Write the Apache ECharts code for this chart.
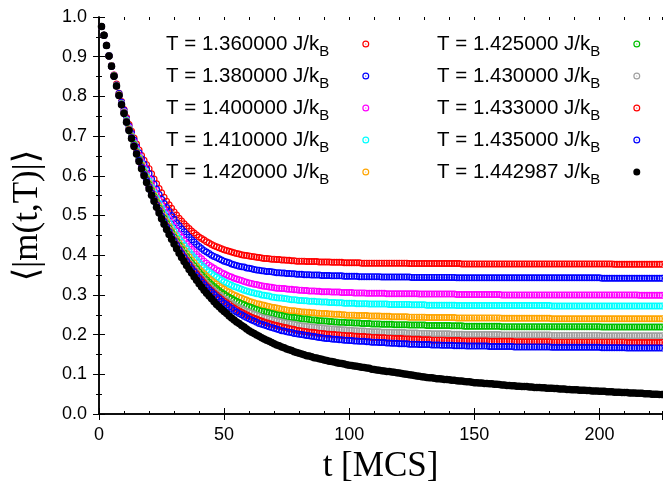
<!DOCTYPE html>
<html>
<head>
<meta charset="utf-8">
<script src="https://cdn.jsdelivr.net/npm/echarts@6/dist/echarts.min.js"></script>
<style>html,body{margin:0;padding:0;background:#fff}#c{width:663px;height:483px}</style>
</head>
<body>
<div id="c"></div>
<script>
// ---- data (t = 1 .. 225 MCS, one value per MCS) ----
const tStart = 1;
const temps = ['1.360000','1.380000','1.400000','1.410000','1.420000','1.425000','1.430000','1.433000','1.435000','1.442987'];

const m1360 = [
.976,.954,.929,.903,.878,.854,.831,.808,.787,.767,
.747,.729,.712,.695,.680,.665,.651,.639,.628,.618,
.605,.592,.580,.568,.557,.546,.536,.527,.518,.509,
.501,.493,.486,.479,.473,.467,.461,.456,.451,.446,
.442,.438,.434,.431,.427,.424,.421,.419,.416,.414,
.412,.410,.408,.406,.404,.403,.401,.400,.399,.398,
.397,.396,.395,.394,.393,.392,.392,.391,.390,.390,
.389,.389,.388,.388,.387,.387,.386,.386,.385,.385,
.385,.385,.384,.384,.384,.384,.384,.383,.383,.383,
.383,.383,.382,.382,.382,.382,.382,.381,.381,.381,
.381,.381,.381,.381,.380,.380,.380,.380,.380,.380,
.380,.380,.380,.380,.380,.380,.380,.380,.380,.380,
.380,.380,.380,.379,.379,.379,.379,.379,.379,.379,
.379,.379,.379,.379,.379,.379,.379,.379,.379,.379,
.379,.379,.379,.379,.378,.378,.378,.378,.378,.378,
.378,.378,.378,.378,.378,.378,.378,.378,.378,.378,
.378,.378,.378,.378,.378,.378,.378,.378,.378,.378,
.378,.378,.378,.378,.378,.378,.378,.378,.378,.378,
.378,.378,.378,.378,.378,.378,.378,.378,.378,.378,
.378,.378,.378,.378,.378,.378,.378,.378,.378,.378,
.378,.378,.378,.378,.378,.377,.377,.377,.377,.377,
.377,.377,.377,.377,.377,.377,.377,.377,.377,.377,
.377,.377,.377,.377,.377];

const m1380 = [
.976,.954,.929,.903,.878,.853,.829,.807,.785,.765,
.744,.725,.707,.690,.673,.658,.643,.630,.617,.606,
.592,.579,.566,.553,.541,.530,.520,.510,.500,.491,
.482,.474,.466,.459,.452,.445,.439,.433,.427,.422,
.417,.412,.408,.404,.400,.397,.394,.391,.388,.385,
.383,.381,.378,.376,.374,.372,.371,.370,.368,.367,
.366,.364,.363,.362,.361,.360,.359,.359,.358,.357,
.356,.356,.355,.355,.354,.354,.353,.353,.352,.352,
.352,.351,.351,.351,.350,.350,.350,.350,.349,.349,
.349,.349,.348,.348,.348,.348,.348,.347,.347,.347,
.347,.347,.347,.346,.346,.346,.346,.346,.346,.346,
.346,.346,.345,.345,.345,.345,.345,.345,.345,.345,
.345,.345,.345,.345,.344,.344,.344,.344,.344,.344,
.344,.344,.344,.344,.344,.344,.344,.344,.344,.344,
.344,.344,.343,.343,.343,.343,.343,.343,.343,.343,
.343,.343,.343,.343,.343,.343,.343,.343,.343,.343,
.343,.343,.343,.343,.343,.343,.343,.343,.343,.343,
.343,.343,.343,.343,.343,.343,.343,.343,.343,.343,
.343,.343,.343,.343,.343,.343,.343,.343,.343,.343,
.343,.343,.343,.343,.343,.343,.343,.343,.343,.343,
.342,.342,.342,.342,.342,.342,.342,.342,.342,.342,
.342,.342,.342,.342,.342,.342,.342,.342,.342,.342,
.342,.342,.342,.342,.342];

const m1400 = [
.976,.954,.928,.903,.877,.853,.828,.805,.783,.762,
.741,.722,.703,.685,.668,.651,.635,.620,.606,.593,
.579,.565,.552,.539,.526,.514,.503,.492,.482,.472,
.462,.453,.445,.437,.429,.422,.415,.409,.402,.396,
.391,.385,.380,.375,.371,.367,.363,.360,.356,.353,
.350,.347,.345,.342,.340,.338,.336,.334,.332,.330,
.329,.327,.326,.324,.323,.322,.321,.320,.319,.318,
.317,.317,.316,.316,.315,.314,.314,.313,.313,.312,
.312,.311,.311,.310,.310,.310,.309,.309,.308,.308,
.308,.308,.307,.307,.307,.307,.306,.306,.306,.306,
.306,.305,.305,.305,.305,.305,.304,.304,.304,.304,
.304,.304,.304,.304,.303,.303,.303,.303,.303,.303,
.303,.303,.303,.303,.303,.303,.303,.302,.302,.302,
.302,.302,.302,.302,.302,.302,.302,.302,.302,.302,
.302,.302,.301,.301,.301,.301,.301,.301,.301,.301,
.301,.301,.301,.301,.301,.301,.301,.301,.301,.301,
.300,.300,.300,.300,.300,.300,.300,.300,.300,.300,
.300,.300,.300,.300,.300,.300,.300,.300,.300,.300,
.300,.300,.300,.300,.300,.300,.300,.300,.300,.300,
.300,.300,.300,.300,.300,.300,.300,.300,.300,.300,
.300,.300,.300,.300,.300,.300,.300,.300,.300,.300,
.300,.300,.300,.300,.300,.299,.299,.299,.299,.299,
.299,.299,.299,.299,.299];

const m1410 = [
.976,.954,.928,.903,.877,.852,.828,.804,.782,.761,
.740,.720,.701,.682,.665,.647,.631,.615,.600,.587,
.572,.558,.544,.531,.518,.505,.493,.482,.471,.461,
.451,.442,.433,.425,.416,.408,.401,.394,.387,.381,
.375,.369,.363,.358,.353,.349,.345,.341,.337,.333,
.330,.327,.324,.321,.319,.317,.314,.312,.310,.308,
.306,.305,.303,.302,.300,.299,.298,.297,.295,.294,
.293,.292,.292,.291,.290,.289,.288,.288,.287,.286,
.286,.285,.285,.284,.284,.284,.283,.283,.282,.282,
.282,.281,.281,.281,.280,.280,.280,.279,.279,.279,
.279,.279,.278,.278,.278,.278,.278,.277,.277,.277,
.277,.277,.277,.277,.277,.276,.276,.276,.276,.276,
.276,.276,.276,.276,.275,.275,.275,.275,.275,.275,
.274,.274,.274,.274,.274,.274,.274,.274,.274,.274,
.274,.274,.273,.273,.273,.273,.273,.273,.273,.273,
.273,.273,.273,.273,.273,.273,.273,.273,.273,.273,
.273,.273,.273,.273,.273,.273,.273,.273,.273,.273,
.273,.273,.273,.273,.273,.273,.273,.273,.273,.273,
.272,.272,.272,.272,.272,.272,.272,.272,.272,.272,
.272,.272,.272,.272,.272,.272,.272,.272,.272,.272,
.272,.272,.272,.272,.272,.272,.272,.272,.272,.272,
.272,.272,.272,.272,.272,.272,.272,.272,.272,.272,
.272,.272,.272,.272,.272];

const m1420 = [
.976,.954,.928,.902,.877,.852,.827,.804,.781,.760,
.738,.718,.699,.680,.661,.644,.627,.610,.595,.581,
.566,.551,.537,.523,.510,.497,.485,.473,.462,.452,
.441,.431,.422,.413,.404,.396,.388,.381,.373,.366,
.359,.353,.347,.341,.336,.331,.327,.322,.318,.314,
.310,.307,.303,.300,.297,.294,.292,.289,.287,.284,
.282,.280,.278,.277,.275,.274,.272,.271,.269,.268,
.267,.266,.264,.263,.262,.261,.260,.260,.259,.258,
.257,.257,.256,.256,.255,.255,.254,.254,.253,.253,
.253,.252,.252,.251,.251,.251,.250,.250,.249,.249,
.249,.249,.248,.248,.248,.248,.248,.247,.247,.247,
.247,.247,.246,.246,.246,.246,.245,.245,.245,.245,
.245,.245,.245,.244,.244,.244,.244,.244,.244,.244,
.243,.243,.243,.243,.243,.243,.243,.243,.243,.243,
.243,.243,.242,.242,.242,.242,.242,.242,.242,.242,
.242,.242,.242,.242,.242,.242,.242,.242,.242,.242,
.241,.241,.241,.241,.241,.241,.241,.241,.241,.241,
.241,.241,.241,.241,.241,.241,.241,.241,.241,.241,
.240,.240,.240,.240,.240,.240,.240,.240,.240,.240,
.240,.240,.240,.240,.240,.240,.240,.240,.240,.240,
.240,.240,.240,.240,.240,.240,.240,.240,.240,.240,
.240,.240,.240,.240,.240,.240,.240,.240,.240,.240,
.240,.240,.240,.240,.240];

const m1425 = [
.976,.954,.928,.902,.876,.852,.827,.803,.781,.759,
.738,.717,.698,.679,.660,.642,.624,.608,.592,.578,
.563,.548,.533,.519,.506,.493,.480,.468,.457,.446,
.435,.425,.415,.406,.397,.388,.380,.373,.365,.357,
.350,.344,.338,.332,.326,.321,.316,.311,.306,.302,
.298,.294,.291,.287,.284,.281,.278,.275,.272,.270,
.268,.265,.263,.261,.259,.258,.256,.255,.253,.252,
.250,.249,.248,.246,.245,.244,.243,.243,.242,.241,
.240,.239,.239,.238,.237,.237,.236,.235,.235,.234,
.234,.233,.233,.232,.232,.231,.231,.231,.230,.230,
.230,.229,.229,.229,.228,.228,.228,.228,.227,.227,
.227,.227,.226,.226,.226,.226,.226,.225,.225,.225,
.225,.225,.225,.224,.224,.224,.224,.224,.224,.224,
.223,.223,.223,.223,.223,.223,.223,.223,.223,.223,
.222,.222,.222,.222,.222,.221,.221,.221,.221,.221,
.221,.221,.221,.221,.221,.221,.221,.221,.221,.221,
.220,.220,.220,.220,.220,.220,.220,.220,.220,.220,
.220,.220,.220,.220,.220,.220,.220,.220,.220,.220,
.220,.220,.220,.220,.220,.220,.220,.220,.220,.220,
.220,.220,.220,.220,.220,.220,.220,.220,.220,.220,
.219,.219,.219,.219,.219,.219,.219,.219,.219,.219,
.219,.219,.219,.219,.219,.219,.219,.219,.219,.219,
.219,.219,.219,.219,.219];

const m1430 = [
.976,.954,.928,.902,.876,.851,.827,.803,.780,.758,
.737,.716,.697,.677,.659,.640,.623,.606,.590,.575,
.560,.545,.530,.516,.502,.489,.476,.464,.452,.441,
.430,.420,.410,.400,.391,.382,.374,.366,.358,.350,
.343,.336,.329,.323,.317,.311,.306,.301,.296,.291,
.287,.283,.279,.275,.271,.268,.265,.262,.259,.256,
.254,.251,.249,.246,.244,.242,.241,.239,.238,.236,
.235,.233,.232,.230,.229,.228,.227,.226,.224,.223,
.222,.221,.221,.220,.219,.219,.218,.217,.217,.216,
.215,.215,.214,.214,.213,.213,.212,.212,.211,.211,
.211,.210,.210,.209,.209,.209,.208,.208,.207,.207,
.207,.207,.206,.206,.206,.206,.206,.205,.205,.205,
.205,.205,.204,.204,.204,.204,.204,.203,.203,.203,
.203,.203,.202,.202,.202,.202,.202,.202,.202,.202,
.201,.201,.201,.201,.201,.200,.200,.200,.200,.200,
.200,.200,.200,.200,.200,.200,.200,.200,.200,.200,
.199,.199,.199,.199,.199,.199,.199,.199,.199,.199,
.199,.199,.199,.199,.199,.199,.199,.199,.199,.199,
.198,.198,.198,.198,.198,.198,.198,.198,.198,.198,
.198,.198,.198,.198,.198,.198,.198,.198,.198,.198,
.197,.197,.197,.197,.197,.197,.197,.197,.197,.197,
.197,.197,.197,.197,.197,.197,.197,.197,.197,.197,
.197,.197,.197,.197,.197];

const m1433 = [
.976,.954,.928,.902,.876,.851,.826,.803,.780,.758,
.737,.716,.696,.676,.658,.639,.622,.604,.589,.573,
.558,.543,.528,.513,.499,.486,.473,.461,.449,.438,
.427,.416,.406,.397,.387,.378,.369,.361,.353,.345,
.338,.330,.323,.317,.311,.305,.300,.294,.289,.284,
.280,.276,.271,.267,.263,.260,.256,.253,.250,.247,
.244,.241,.239,.236,.234,.232,.230,.228,.226,.224,
.223,.221,.220,.218,.217,.215,.214,.213,.211,.210,
.209,.208,.207,.206,.206,.205,.204,.203,.203,.202,
.201,.201,.200,.200,.199,.199,.198,.198,.197,.197,
.197,.196,.196,.195,.195,.195,.194,.194,.193,.193,
.193,.192,.192,.192,.191,.191,.191,.190,.190,.190,
.190,.189,.189,.189,.188,.188,.188,.188,.187,.187,
.187,.187,.186,.186,.186,.186,.186,.186,.185,.185,
.185,.185,.185,.185,.184,.184,.184,.184,.184,.184,
.184,.184,.184,.184,.184,.183,.183,.183,.183,.183,
.183,.183,.183,.183,.183,.182,.182,.182,.182,.182,
.182,.182,.182,.182,.182,.182,.182,.182,.182,.182,
.181,.181,.181,.181,.181,.181,.181,.181,.181,.181,
.181,.181,.181,.181,.181,.181,.181,.181,.181,.181,
.181,.181,.181,.181,.181,.181,.181,.181,.181,.181,
.180,.180,.180,.180,.180,.180,.180,.180,.180,.180,
.180,.180,.180,.180,.180];

const m1435 = [
.976,.954,.928,.902,.876,.851,.826,.802,.780,.758,
.736,.715,.696,.676,.657,.639,.621,.603,.588,.572,
.556,.541,.526,.512,.498,.484,.471,.459,.447,.436,
.425,.414,.404,.394,.384,.375,.366,.358,.349,.341,
.333,.326,.319,.313,.307,.301,.295,.290,.284,.279,
.275,.270,.266,.261,.257,.253,.250,.246,.243,.240,
.237,.234,.231,.228,.226,.224,.222,.220,.218,.216,
.214,.212,.210,.209,.207,.206,.205,.203,.202,.201,
.200,.199,.198,.197,.196,.195,.194,.193,.192,.191,
.190,.190,.189,.188,.188,.187,.187,.186,.186,.185,
.185,.184,.184,.183,.183,.183,.182,.182,.181,.181,
.181,.180,.180,.180,.179,.179,.178,.178,.178,.177,
.177,.177,.177,.176,.176,.176,.176,.175,.175,.175,
.175,.175,.174,.174,.174,.174,.173,.173,.173,.173,
.173,.172,.172,.172,.172,.172,.171,.171,.171,.171,
.171,.171,.171,.171,.171,.170,.170,.170,.170,.170,
.170,.170,.170,.170,.170,.169,.169,.169,.169,.169,
.169,.169,.169,.169,.169,.169,.169,.169,.169,.169,
.168,.168,.168,.168,.168,.168,.168,.168,.168,.168,
.168,.168,.168,.168,.168,.168,.168,.168,.168,.168,
.167,.167,.167,.167,.167,.167,.167,.167,.167,.167,
.166,.166,.166,.166,.166,.166,.166,.166,.166,.166,
.166,.166,.166,.166,.166];

const m1442987 = [
.976,.954,.928,.902,.876,.851,.826,.802,.779,.757,
.735,.714,.694,.674,.655,.636,.618,.600,.583,.567,
.551,.536,.521,.506,.492,.478,.465,.452,.440,.428,
.416,.405,.394,.384,.374,.364,.355,.346,.337,.328,
.320,.312,.304,.297,.290,.283,.276,.270,.264,.258,
.253,.247,.242,.237,.232,.228,.223,.219,.214,.210,
.206,.203,.199,.196,.192,.189,.186,.183,.180,.177,
.174,.172,.169,.167,.164,.162,.160,.157,.155,.153,
.151,.149,.147,.146,.144,.142,.141,.139,.138,.136,
.135,.133,.132,.131,.129,.128,.127,.126,.124,.123,
.122,.121,.120,.119,.118,.117,.116,.115,.113,.112,
.111,.110,.109,.108,.107,.107,.106,.105,.104,.103,
.102,.101,.100,.099,.098,.097,.096,.095,.094,.093,
.092,.091,.091,.090,.089,.089,.088,.087,.087,.086,
.085,.085,.084,.083,.083,.082,.081,.081,.080,.079,
.079,.078,.078,.077,.077,.076,.076,.075,.075,.074,
.073,.073,.072,.072,.071,.071,.070,.070,.069,.069,
.069,.068,.068,.067,.067,.067,.066,.066,.065,.065,
.065,.064,.064,.063,.063,.063,.062,.062,.061,.061,
.061,.060,.060,.060,.059,.059,.058,.058,.058,.057,
.057,.057,.056,.056,.056,.055,.055,.055,.054,.054,
.054,.053,.053,.053,.052,.052,.052,.051,.051,.051,
.050,.050,.050,.049,.049];

const seriesValues = [m1360, m1380, m1400, m1410, m1420, m1425, m1430, m1433, m1435, m1442987];
const xTicks = [0, 50, 100, 150, 200];

// ---- styling ----
const colors = ['#ff0000','#0000ff','#ff00ff','#00ffff','#ffa500','#00c000','#a0a0a0','#ff0000','#0000ff','#000000'];
const ring = 'path://M0,10A10,10,0,1,1,20,10A10,10,0,1,1,0,10Z' +
             'M3.4,10A6.6,6.6,0,1,0,16.6,10A6.6,6.6,0,1,0,3.4,10Z' +
             'M8.3,10A1.7,1.7,0,1,1,11.7,10A1.7,1.7,0,1,1,8.3,10Z';
const names = temps.map(s => 'T = ' + s + ' J/k');

seriesValues.forEach((a, i) => { if (a.length !== 225) console.error('bad length', i, a.length); });

const series = seriesValues.map((vals, i) => ({
  name: names[i],
  type: 'scatter',
  xAxisIndex: 0, yAxisIndex: 0,
  symbol: i === 9 ? 'circle' : ring,
  symbolSize: i === 9 ? 7.5 : 7,
  itemStyle: { color: colors[i], opacity: 1 },
  emphasis: { disabled: true },
  silent: true,
  data: vals.map((v, k) => [tStart + k, v])
}));

const legendText = {
  color: '#000',
  rich: {
    a: { fontFamily: 'Liberation Sans, Arial, sans-serif', fontSize: 20.5, color: '#000', lineHeight: 20, verticalAlign: 'top' },
    b: { fontFamily: 'Liberation Sans, Arial, sans-serif', fontSize: 15, color: '#000', lineHeight: 14, padding: [10, 28, 0, 0], verticalAlign: 'top' }
  }
};
function mkLegend(idx, left) {
  return {
    orient: 'vertical', left: left, top: 34, padding: 0, itemGap: 7,
    itemWidth: 7, itemHeight: 7, align: 'right', selectedMode: false,
    data: idx.map(i => ({ name: names[i], icon: i === 9 ? 'circle' : ring })),
    formatter: n => '{a|' + n + '}{b|B}',
    textStyle: legendText
  };
}

const axLine = { show: true, lineStyle: { color: '#000', width: 1.5 } };
const lblFont = 'Liberation Sans, Arial, sans-serif';
function xAx(pos, interval, len, main) {
  return {
    type: 'value', position: pos, min: 0, max: 225, interval: interval,
    axisLine: main ? axLine : { show: false },
    axisTick: { show: true, inside: true, length: len, lineStyle: { color: '#000', width: 1 } },
    axisLabel: (main && pos === 'bottom') ? {
      show: true, showMaxLabel: false, fontSize: 18, color: '#000', margin: 12, fontFamily: lblFont,
      formatter: v => (xTicks.indexOf(v) >= 0 ? String(v) : '')
    } : { show: false },
    splitLine: { show: false },
    name: (main && pos === 'bottom') ? 't [MCS]' : '',
    nameLocation: 'middle', nameGap: 34,
    nameTextStyle: { fontFamily: 'Liberation Serif, Times New Roman, serif', fontSize: 35, color: '#000' }
  };
}
function yAx(pos, main) {
  return {
    type: 'value', position: pos, min: 0, max: 1, interval: 0.1,
    axisLine: axLine,
    axisTick: { show: true, inside: true, length: 6, lineStyle: { color: '#000', width: 1 } },
    minorTick: { show: true, splitNumber: 2, length: 3, lineStyle: { color: '#000', width: 1 } },
    axisLabel: main ? { show: true, fontSize: 18, color: '#000', margin: 12, fontFamily: lblFont, formatter: v => v.toFixed(1) } : { show: false },
    splitLine: { show: false },
    name: main ? '\u27e8|m(t,T)|\u27e9' : '',
    nameLocation: 'middle', nameGap: 54, nameRotate: 90,
    nameTextStyle: { fontFamily: 'Liberation Serif, DejaVu Serif, serif', fontSize: 35, color: '#000' }
  };
}

const chart = echarts.init(document.getElementById('c'), null, { renderer: 'canvas' });
chart.setOption({
  animation: false,
  backgroundColor: '#fff',
  grid: { left: 99, right: 1, top: 17, bottom: 69, containLabel: false, outerBoundsMode: 'none' },
  xAxis: [xAx('bottom', 50, 6, true), xAx('top', 50, 6, true), xAx('bottom', 10, 3, false), xAx('top', 10, 3, false)],
  yAxis: [yAx('left', true), yAx('right', false)],
  legend: [mkLegend([0,1,2,3,4], 166), mkLegend([5,6,7,8,9], 437)],
  series: series
});
</script>
</body>
</html>
